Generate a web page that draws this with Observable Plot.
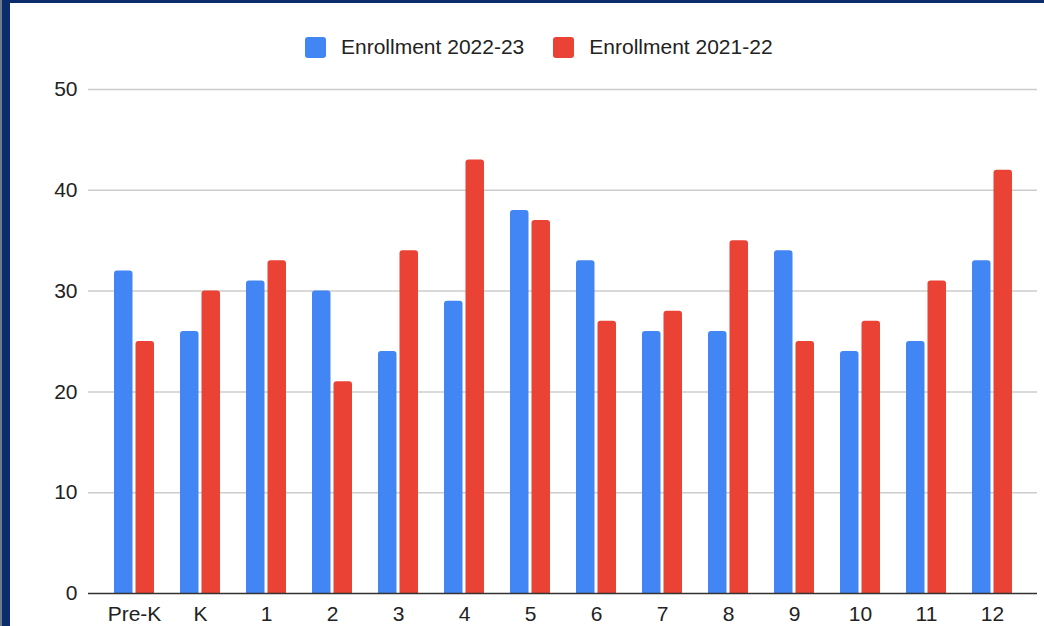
<!DOCTYPE html>
<html>
<head>
<meta charset="utf-8">
<script src="https://cdn.jsdelivr.net/npm/d3@7"></script>
<script src="https://cdn.jsdelivr.net/npm/@observablehq/plot@0.6"></script>
<style>
  html, body { margin: 0; padding: 0; width: 1044px; height: 626px; overflow: hidden; background: #fff; }
  #frame { position: absolute; left: 0; top: 0; width: 1044px; height: 626px; box-sizing: border-box;
           border-left: 10px solid #0b2d6b; border-top: 3px solid #0b2d6b; }
  #edge { position: absolute; left: 0; top: 0; width: 2px; height: 626px; background: #6f7a8c; }
  #legend { height: 62px; box-sizing: border-box; display: flex; align-items: flex-start; padding-top: 32px; padding-left: 295px;
            font-family: "Liberation Sans", Arial, sans-serif; font-size: 21px; color: #222; }
  .item { display: flex; align-items: center; }
  .sw { width: 21px; height: 21px; border-radius: 3px; margin-right: 15px; }
  #chart svg { display: block; }
</style>
</head>
<body>
<div id="frame">
  <div id="legend"></div>
  <div id="chart"></div>
</div>
<div id="edge"></div>
<script>
const grades = ["Pre-K", "K", "1", "2", "3", "4", "5", "6", "7", "8", "9", "10", "11", "12"];
const series = ["Enrollment 2022-23", "Enrollment 2021-22"];
const colors = ["#4285F4", "#EA4335"];
const enroll2223 = [32, 26, 31, 30, 24, 29, 38, 33, 26, 26, 34, 24, 25, 33];
const enroll2122 = [25, 30, 33, 21, 34, 43, 37, 27, 28, 35, 25, 27, 31, 42];
const yTicks = [0, 10, 20, 30, 40, 50];

// Legend
const legend = document.getElementById("legend");
series.forEach((s, i) => {
  const item = document.createElement("div");
  item.className = "item";
  if (i > 0) item.style.marginLeft = "29px";
  const sw = document.createElement("div");
  sw.className = "sw";
  sw.style.background = colors[i];
  const t = document.createElement("span");
  t.textContent = s;
  item.appendChild(sw);
  item.appendChild(t);
  legend.appendChild(item);
});

const dataA = grades.map((g, i) => ({grade: g, value: enroll2223[i]}));
const dataB = grades.map((g, i) => ({grade: g, value: enroll2122[i]}));

const chart = Plot.plot({
  width: 1034,
  height: 568,
  marginLeft: 78,
  marginRight: 7,
  marginTop: 24,
  marginBottom: 40,
  style: {fontFamily: "'Liberation Sans', Arial, sans-serif", fontSize: "21px", color: "#222", background: "#fff"},
  x: {domain: grades, paddingInner: 0.395, paddingOuter: 0.378, label: null},
  y: {domain: [0, 50], label: null},
  marks: [
    Plot.ruleY(yTicks.filter(d => d > 0), {stroke: "#cccccc", strokeWidth: 1.5}),
    Plot.barY(dataA, {x: "grade", y: "value", fill: colors[0], insetRight: 21.5, insetBottom: -5, rx: 3, clip: true}),
    Plot.barY(dataB, {x: "grade", y: "value", fill: colors[1], insetLeft: 21.5, insetBottom: -5, rx: 3, clip: true}),
    Plot.ruleY([0], {stroke: "#333", strokeWidth: 1.5}),
    Plot.axisY({ticks: yTicks, tickSize: 0, tickPadding: 11, label: null}),
    Plot.axisX({tickSize: 0, tickPadding: 13, label: null})
  ]
});
document.getElementById("chart").appendChild(chart);
</script>
</body>
</html>
